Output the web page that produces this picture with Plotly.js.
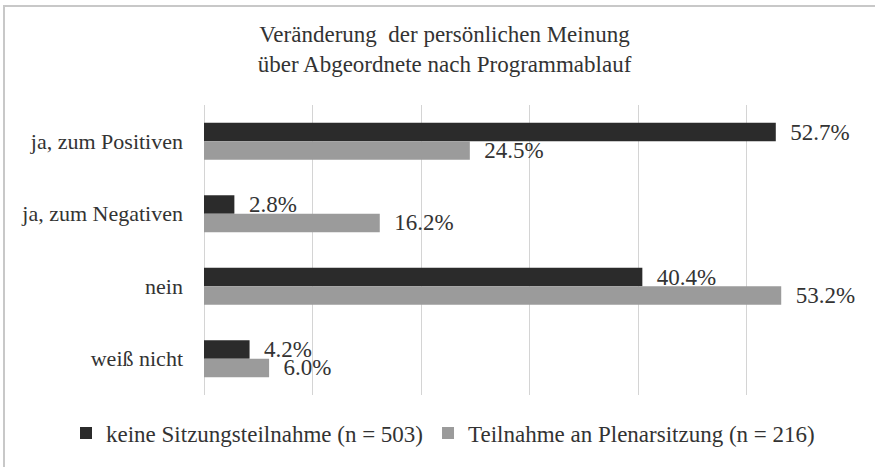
<!DOCTYPE html>
<html>
<head>
<meta charset="utf-8">
<script src="https://cdn.plot.ly/plotly-3.0.1.min.js"></script>
<style>
html,body{margin:0;padding:0;background:#fff;}
#chart{width:875px;height:467px;}
</style>
</head>
<body>
<div id="chart"></div>
<script>
const categories = ["ja, zum Positiven", "ja, zum Negativen", "nein", "weiß nicht"];
const seriesNames = ["keine Sitzungsteilnahme (n = 503)", "Teilnahme an Plenarsitzung (n = 216)"];
const keineValues = [52.7, 2.8, 40.4, 4.2];
const teilnahmeValues = [24.5, 16.2, 53.2, 6.0];
const colors = ["#2b2b2b", "#9b9b9b"];

const serif = "'Liberation Serif', 'Times New Roman', Times, serif";
const fmt = v => "\u00a0\u00a0" + v.toFixed(1) + "%";

const traces = [keineValues, teilnahmeValues].map((vals, i) => ({
  type: "bar",
  orientation: "h",
  name: seriesNames[i],
  y: categories,
  x: vals,
  text: vals.map(fmt),
  textposition: "outside",
  constraintext: "none",
  cliponaxis: false,
  textfont: {family: serif, size: 23, color: "#333"},
  marker: {color: colors[i], line: {width: 0}},
  hoverinfo: "none"
}));

const layout = {
  width: 875, height: 467,
  margin: {l: 204, r: 20, t: 105, b: 72},
  paper_bgcolor: "#fff", plot_bgcolor: "#fff",
  font: {family: serif, color: "#333", size: 21},
  title: {
    text: "Veränderung  der persönlichen Meinung<br>über Abgeordnete nach Programmablauf",
    font: {family: serif, size: 23, color: "#333"},
    x: 0.508, xanchor: "center", xref: "container",
    y: 0.909, yanchor: "top", yref: "container"
  },
  barmode: "group",
  bargap: 0.49,
  bargroupgap: 0,
  showlegend: true,
  legend: {
    orientation: "h", xref: "paper", yref: "paper",
    x: (66 - 204) / 651, xanchor: "left", y: (395 - 433) / 290, yanchor: "middle",
    traceorder: "normal",
    font: {family: serif, size: 23, color: "#333"},
    itemwidth: 30
  },
  xaxis: {
    range: [0, 60], dtick: 10, showticklabels: false,
    showgrid: true, gridcolor: "#d4d4d4", gridwidth: 1,
    zeroline: true, zerolinecolor: "#d4d4d4", zerolinewidth: 1,
    showline: false, fixedrange: true
  },
  yaxis: {
    autorange: "reversed", type: "category",
    showgrid: false, zeroline: false, showline: false,
    ticks: "", ticklabelstandoff: 20,
    tickfont: {family: serif, size: 22, color: "#333"},
    fixedrange: true
  },
  shapes: [{
    type: "rect", xref: "paper", yref: "paper",
    x0: (4 - 204) / 651, x1: (885 - 204) / 651,
    y0: (395 - 475) / 290, y1: (395 - 6) / 290,
    line: {color: "#c8c8c8", width: 2}, layer: "below"
  }]
};

Plotly.newPlot("chart", traces, layout, {displayModeBar: false, staticPlot: true});
</script>
</body>
</html>
